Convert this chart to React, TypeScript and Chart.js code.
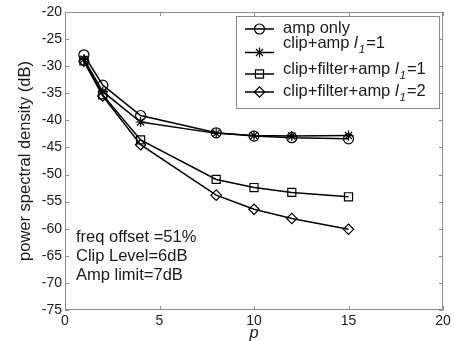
import React, { useEffect, useRef } from "react";
import { Chart, registerables } from "chart.js";

Chart.register(...registerables);

const pValues = [1, 2, 4, 8, 10, 12, 15];
const ampOnly = [-27.9, -33.5, -39.1, -42.3, -42.9, -43.2, -43.4];
const clipAmp = [-28.7, -34.7, -40.3, -42.4, -42.8, -42.9, -42.8];
const clipFilterAmp1 = [-29.0, -35.3, -43.6, -50.9, -52.4, -53.3, -54.1];
const clipFilterAmp2 = [-29.1, -35.5, -44.5, -53.8, -56.4, -58.1, -60.1];
const xTicks = [0, 5, 10, 15, 20];
const yTicks = [-75, -70, -65, -60, -55, -50, -45, -40, -35, -30, -25, -20];
const legendLabels = [
  { pre: "amp only", sub: "", post: "" },
  { pre: "clip+amp ", sub: "1", post: "=1" },
  { pre: "clip+filter+amp ", sub: "1", post: "=1" },
  { pre: "clip+filter+amp ", sub: "1", post: "=2" },
];
const annotationLines = ["freq offset =51%", "Clip Level=6dB", "Amp limit=7dB"];

const FONT = "'Liberation Sans', Arial, Helvetica, sans-serif";
const BOX = "#8c8c8c";
const INK = "#1a1a1a";

const styles = ["circle", "star", "rect", "rectRot"];
const radii = [5, 5, 5.7, 5.2];

function drawMarker(ctx: CanvasRenderingContext2D, style: string, r: number, x: number, y: number) {
  ctx.beginPath();
  if (style === "circle") {
    ctx.arc(x, y, r, 0, Math.PI * 2);
  } else if (style === "rect") {
    const s = Math.SQRT1_2 * r;
    ctx.rect(x - s, y - s, 2 * s, 2 * s);
  } else if (style === "rectRot") {
    ctx.moveTo(x - r, y);
    ctx.lineTo(x, y - r);
    ctx.lineTo(x + r, y);
    ctx.lineTo(x, y + r);
    ctx.closePath();
  } else if (style === "star") {
    for (let k = 0; k < 4; k++) {
      const a = (k * Math.PI) / 4;
      ctx.moveTo(x - Math.cos(a) * r, y - Math.sin(a) * r);
      ctx.lineTo(x + Math.cos(a) * r, y + Math.sin(a) * r);
    }
  }
  ctx.stroke();
}

const frame = {
  id: "frame",
  afterDatasetsDraw(chart: any) {
    const { ctx, chartArea, scales } = chart;
    const { left, right, top, bottom } = chartArea;
    ctx.save();
    ctx.strokeStyle = BOX;
    ctx.lineWidth = 1;
    ctx.beginPath();
    ctx.rect(left + 0.5, top + 0.5, right - left - 1, bottom - top - 1);
    ctx.stroke();
    const tl = 4;
    ctx.beginPath();
    xTicks.forEach((v) => {
      const x = Math.round(scales.x.getPixelForValue(v)) + 0.5;
      ctx.moveTo(x, bottom);
      ctx.lineTo(x, bottom - tl);
      ctx.moveTo(x, top);
      ctx.lineTo(x, top + tl);
    });
    yTicks.forEach((v) => {
      const y = Math.round(scales.y.getPixelForValue(v)) + 0.5;
      ctx.moveTo(left, y);
      ctx.lineTo(left + tl, y);
      ctx.moveTo(right, y);
      ctx.lineTo(right - tl, y);
    });
    ctx.stroke();

    // annotation
    ctx.fillStyle = INK;
    ctx.font = `16.5px ${FONT}`;
    ctx.textBaseline = "middle";
    ctx.textAlign = "left";
    annotationLines.forEach((t, i) => {
      ctx.fillText(t, left + 11, top + 225 + i * 19);
    });

    // legend
    const lx = left + 171;
    const ly = top + 4;
    const lw = 203;
    const lh = 92;
    ctx.fillStyle = "#ffffff";
    ctx.fillRect(lx, ly, lw, lh);
    ctx.strokeStyle = BOX;
    ctx.strokeRect(lx + 0.5, ly + 0.5, lw, lh);
    const markY = [17, 40.5, 62, 80];
    const textY = [21, 35.5, 61.5, 83.5];
    chart.data.datasets.forEach((ds: any, i: number) => {
      const y = top + markY[i];
      ctx.strokeStyle = "#000";
      ctx.lineWidth = 1.5;
      ctx.beginPath();
      ctx.moveTo(left + 180, y);
      ctx.lineTo(left + 209, y);
      ctx.stroke();
      ctx.lineWidth = 1.2;
      drawMarker(ctx, styles[i], radii[i], left + 194.5, y);
      const lab = legendLabels[i];
      const by = top + textY[i];
      let tx = left + 218;
      ctx.fillStyle = INK;
      ctx.textBaseline = "alphabetic";
      ctx.font = `16.5px ${FONT}`;
      ctx.fillText(lab.pre, tx, by);
      tx += ctx.measureText(lab.pre).width;
      if (lab.sub) {
        ctx.font = `italic 16.5px ${FONT}`;
        ctx.fillText("l", tx, by);
        tx += ctx.measureText("l").width + 1;
        ctx.font = `italic 11.5px ${FONT}`;
        ctx.fillText(lab.sub, tx, by + 5);
        tx += ctx.measureText(lab.sub).width + 1;
        ctx.font = `16.5px ${FONT}`;
        ctx.fillText(lab.post, tx, by);
      }
    });
    ctx.restore();
  },
};

export default function App() {
  const ref = useRef<HTMLCanvasElement>(null);
  useEffect(() => {
    document.body.style.margin = "0";
    const series = [ampOnly, clipAmp, clipFilterAmp1, clipFilterAmp2];
    const names = legendLabels.map((l) => l.pre + (l.sub ? "l" + l.sub + l.post : ""));
    const chart = new Chart(ref.current as HTMLCanvasElement, {
      type: "line",
      data: {
        datasets: series.map((s, i) => ({
          label: names[i],
          data: s.map((v, j) => ({ x: pValues[j], y: v })),
          borderColor: "#000",
          borderWidth: 1.5,
          backgroundColor: "rgba(0,0,0,0)",
          pointStyle: styles[i] as any,
          pointRadius: radii[i],
          pointBorderColor: "#000",
          pointBorderWidth: 1.2,
          pointBackgroundColor: "rgba(0,0,0,0)",
          tension: 0,
        })),
      },
      options: {
        animation: false,
        responsive: false,
        events: [],
        layout: { padding: { top: 12, right: 11, left: 0, bottom: 0 } },
        plugins: { legend: { display: false }, tooltip: { enabled: false } },
        scales: {
          x: {
            type: "linear",
            min: 0,
            max: 20,
            afterBuildTicks: (s: any) => {
              s.ticks = xTicks.map((v) => ({ value: v }));
            },
            afterFit: (s: any) => {
              s.height = 31;
            },
            grid: { display: false, drawTicks: false },
            border: { display: false },
            ticks: { padding: 3, color: INK, font: { family: FONT, size: 14 }, maxRotation: 0 },
            title: {
              display: true,
              text: "p",
              color: INK,
              font: { family: FONT, size: 16.5, style: "italic" },
              padding: { top: 0, bottom: -2 },
            },
          },
          y: {
            type: "linear",
            min: -75,
            max: -20,
            afterBuildTicks: (s: any) => {
              s.ticks = yTicks.map((v) => ({ value: v }));
            },
            afterFit: (s: any) => {
              s.width = 65;
            },
            grid: { display: false, drawTicks: false },
            border: { display: false },
            ticks: { padding: 3, color: INK, font: { family: FONT, size: 14 } },
            title: {
              display: true,
              text: "power spectral density (dB)",
              color: INK,
              font: { family: FONT, size: 16.5 },
              padding: { top: 16, bottom: 0 },
            },
          },
        },
      },
      plugins: [frame],
    });
    return () => chart.destroy();
  }, []);
  return (
    <div style={{ width: 454, height: 341 }}>
      <canvas ref={ref} width={454} height={341} style={{ display: "block" }} />
    </div>
  );
}
